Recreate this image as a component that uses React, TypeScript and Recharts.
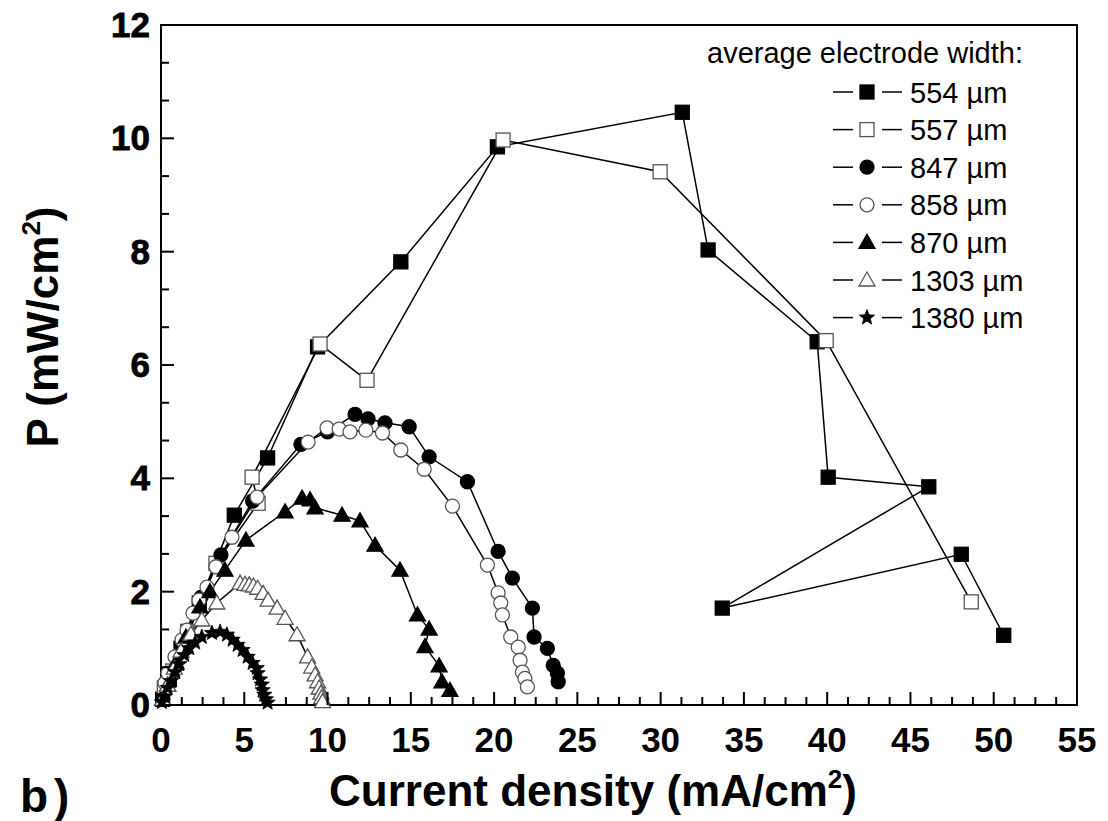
import React from 'react';
import { LineChart, Line, XAxis, YAxis, ReferenceArea, Customized } from 'recharts';

// P vs current density, one pair of arrays per electrode width
const S554_X = [0.1, 0.5, 1.2, 2.3, 4.4, 6.4, 9.4, 14.4, 20.2, 31.3, 32.85, 39.4, 40.06, 46.1, 33.7, 48.05, 50.6];
const S554_Y = [0.1, 0.45, 1.0, 1.8, 3.35, 4.36, 6.32, 7.82, 9.85, 10.46, 8.03, 6.41, 4.02, 3.85, 1.71, 2.66, 1.23];

const S557_X = [0.2, 0.7, 1.6, 3.3, 5.83, 5.47, 9.55, 12.37, 20.54, 29.97, 39.94, 48.65];
const S557_Y = [0.3, 0.6, 1.3, 2.5, 3.56, 4.02, 6.37, 5.73, 9.97, 9.41, 6.43, 1.82];

const S847_X = [0.1, 0.5, 1.3, 2.4, 3.6, 5.5, 8.4, 10.0, 11.65, 12.43, 13.45, 14.9, 16.1, 18.4, 20.24, 21.1, 22.3, 22.4, 23.2, 23.55, 23.8, 23.85];
const S847_Y = [0.1, 0.45, 1.1, 1.9, 2.65, 3.6, 4.6, 4.82, 5.13, 5.05, 4.98, 4.91, 4.38, 3.94, 2.71, 2.24, 1.71, 1.2, 1.0, 0.7, 0.56, 0.41];

const S858_X = [0.24, 0.42, 0.84, 1.26, 1.56, 1.92, 2.28, 2.76, 3.3, 4.26, 5.77, 8.83, 9.97, 10.7, 11.35, 12.3, 13.3, 14.4, 15.8, 17.5, 19.6, 20.24, 20.4, 20.5, 21.0, 21.45, 21.56, 21.7, 21.85, 22.0];
const S858_Y = [0.39, 0.56, 0.85, 1.15, 1.32, 1.62, 1.85, 2.08, 2.44, 2.96, 3.67, 4.64, 4.89, 4.87, 4.82, 4.85, 4.8, 4.5, 4.16, 3.51, 2.47, 1.98, 1.8, 1.59, 1.2, 1.02, 0.79, 0.58, 0.47, 0.32];

const S870_X = [0.1, 0.4, 0.9, 1.5, 2.34, 2.94, 3.84, 5.1, 7.45, 8.47, 8.95, 9.25, 10.87, 11.95, 12.85, 14.35, 15.4, 16.1, 15.85, 16.7, 16.87, 17.35];
const S870_Y = [0.1, 0.35, 0.75, 1.2, 1.73, 2.0, 2.38, 2.91, 3.41, 3.65, 3.62, 3.48, 3.35, 3.25, 2.82, 2.38, 1.59, 1.34, 1.03, 0.69, 0.41, 0.26];

const S1303_X = [0.1, 0.4, 0.8, 1.2, 1.8, 2.45, 3.35, 4.75, 5.05, 5.3, 5.55, 5.8, 6.13, 6.43, 6.97, 7.45, 8.17, 8.8, 9.05, 9.25, 9.4, 9.5, 9.6, 9.65, 9.7];
const S1303_Y = [0.1, 0.35, 0.65, 0.95, 1.25, 1.5, 1.8, 2.15, 2.13, 2.12, 2.1, 2.06, 1.97, 1.85, 1.71, 1.53, 1.24, 0.85, 0.67, 0.53, 0.41, 0.3, 0.21, 0.13, 0.06];

const S1380_X = [0.05, 0.2, 0.4, 0.6, 0.85, 1.1, 1.4, 1.7, 2.05, 2.45, 3.06, 3.55, 3.96, 4.3, 4.6, 4.9, 5.2, 5.5, 5.75, 5.8, 5.95, 6.05, 6.1, 6.2, 6.3, 6.4];
const S1380_Y = [0.05, 0.15, 0.3, 0.42, 0.58, 0.72, 0.88, 1.0, 1.1, 1.2, 1.27, 1.29, 1.24, 1.15, 1.06, 0.97, 0.85, 0.74, 0.65, 0.56, 0.45, 0.36, 0.26, 0.18, 0.1, 0.04];

const X_MAJOR = [0, 5, 10, 15, 20, 25, 30, 35, 40, 45, 50, 55];
const Y_MAJOR = [0, 2, 4, 6, 8, 10, 12];

// 3 minor ticks between x majors, 2 between y majors
const X_TICKS = X_MAJOR.flatMap((v, i) => (i === 0 ? [v] : [v - 3.75, v - 2.5, v - 1.25, v]));
const Y_TICKS = Y_MAJOR.flatMap((v, i) => (i === 0 ? [v] : [v - 4 / 3, v - 2 / 3, v]));

type Shape = 'square' | 'circle' | 'triangle' | 'star';

const SERIES: { name: string; xs: number[]; ys: number[]; shape: Shape; filled: boolean }[] = [
  { name: '554', xs: S554_X, ys: S554_Y, shape: 'square', filled: true },
  { name: '557', xs: S557_X, ys: S557_Y, shape: 'square', filled: false },
  { name: '847', xs: S847_X, ys: S847_Y, shape: 'circle', filled: true },
  { name: '858', xs: S858_X, ys: S858_Y, shape: 'circle', filled: false },
  { name: '870', xs: S870_X, ys: S870_Y, shape: 'triangle', filled: true },
  { name: '1303', xs: S1303_X, ys: S1303_Y, shape: 'triangle', filled: false },
  { name: '1380', xs: S1380_X, ys: S1380_Y, shape: 'star', filled: true },
];

const FONT = '"Liberation Sans", Arial, sans-serif';

const starPoints = (cx: number, cy: number, R: number, r: number) =>
  Array.from({ length: 10 }, (_, i) => {
    const a = -Math.PI / 2 + (i * Math.PI) / 5;
    const rad = i % 2 === 0 ? R : r;
    return `${cx + rad * Math.cos(a)},${cy + rad * Math.sin(a)}`;
  }).join(' ');

const Marker = ({ cx, cy, shape, filled }: { cx: number; cy: number; shape: Shape; filled: boolean }) => {
  const fill = filled ? '#000' : '#fff';
  const stroke = filled ? '#000' : '#555';
  const sw = 1.3;
  if (shape === 'square') return <rect x={cx - 7} y={cy - 7} width={14} height={14} fill={fill} stroke={stroke} strokeWidth={sw} />;
  if (shape === 'circle') return <circle cx={cx} cy={cy} r={7} fill={fill} stroke={stroke} strokeWidth={sw} />;
  if (shape === 'triangle')
    return <polygon points={`${cx},${cy - 8} ${cx - 8},${cy + 6} ${cx + 8},${cy + 6}`} fill={fill} stroke={stroke} strokeWidth={sw} />;
  return <polygon points={starPoints(cx, cy, 8, 3.4)} fill={fill} stroke={stroke} strokeWidth={0.8} />;
};

const XTick = (props: any) => {
  const { x, y, payload } = props;
  const major = X_MAJOR.includes(payload.value);
  return (
    <g>
      <line x1={x} y1={y} x2={x} y2={y - (major ? 13 : 8)} stroke="#000" strokeWidth={2} />
      {major && (
        <text x={x} y={y + 47} textAnchor="middle" fontFamily={FONT} fontWeight="bold" fontSize={35} fill="#000">
          {payload.value}
        </text>
      )}
    </g>
  );
};

const YTick = (props: any) => {
  const { x, y, payload } = props;
  const v = Math.round(payload.value * 1000) / 1000;
  const major = Y_MAJOR.includes(v);
  return (
    <g>
      <line x1={x} y1={y} x2={x + (major ? 13 : 8)} y2={y} stroke="#000" strokeWidth={2} />
      {major && (
        <text x={x - 11} y={y + 12} textAnchor="end" fontFamily={FONT} fontWeight="bold" fontSize={35} fill="#000" stroke="#000" strokeWidth={0.8}>
          {v}
        </text>
      )}
    </g>
  );
};

const Decorations = () => (
  <g fontFamily={FONT} fill="#000">
    {/* axis titles */}
    <text transform="translate(58, 327) rotate(-90)" textAnchor="middle" fontWeight="bold" fontSize={44}>
      P (mW/cm<tspan dy={-18} fontSize={26}>2</tspan><tspan dy={18}>)</tspan>
    </text>
    <text x={593} y={806} textAnchor="middle" fontWeight="bold" fontSize={44}>
      Current density (mA/cm<tspan dy={-18} fontSize={26}>2</tspan><tspan dy={18}>)</tspan>
    </text>
    <text x={20} y={812} fontWeight="bold" fontSize={46} letterSpacing={6}>b)</text>

    {/* legend */}
    <text x={707} y={63} fontSize={29}>average electrode width:</text>
    {SERIES.map((s, i) => {
      const cy = 92 + i * 37.6;
      return (
        <g key={s.name}>
          <line x1={833} y1={cy} x2={853} y2={cy} stroke="#000" strokeWidth={1.5} />
          <line x1={882} y1={cy} x2={902} y2={cy} stroke="#000" strokeWidth={1.5} />
          <Marker cx={867} cy={cy} shape={s.shape} filled={s.filled} />
          <text x={910} y={cy + 10.5} fontSize={29}>
            {s.name} {'\u00B5'}m
          </text>
        </g>
      );
    })}
  </g>
);

export default function App() {
  return (
    <div style={{ position: 'absolute', left: 0, top: 0, background: '#fff' }}>
      <LineChart width={1108} height={821} margin={{ top: 25, right: 31, left: 0, bottom: 0 }}>
        <XAxis
          type="number"
          dataKey="x"
          domain={[0, 55]}
          ticks={X_TICKS}
          interval={0}
          height={116}
          tickSize={0}
          tickMargin={0}
          tickLine={false}
          axisLine={{ stroke: '#000', strokeWidth: 2 }}
          tick={<XTick />}
        />
        <YAxis
          type="number"
          dataKey="y"
          domain={[0, 12]}
          ticks={Y_TICKS}
          interval={0}
          width={161}
          tickSize={0}
          tickMargin={0}
          tickLine={false}
          axisLine={{ stroke: '#000', strokeWidth: 2 }}
          tick={<YTick />}
        />
        <ReferenceArea x1={0} x2={55} y1={0} y2={12} fill="none" fillOpacity={0} stroke="#000" strokeWidth={2} />
        {SERIES.map((s) => (
          <Line
            key={s.name}
            name={`${s.name} µm`}
            data={s.xs.map((x, i) => ({ x, y: s.ys[i] }))}
            dataKey="y"
            type="linear"
            stroke="#000"
            strokeWidth={1.5}
            isAnimationActive={false}
            activeDot={false}
            dot={(p: any) => <Marker key={`${s.name}-${p.index}`} cx={p.cx} cy={p.cy} shape={s.shape} filled={s.filled} />}
          />
        ))}
        <Customized component={Decorations} />
      </LineChart>
    </div>
  );
}
